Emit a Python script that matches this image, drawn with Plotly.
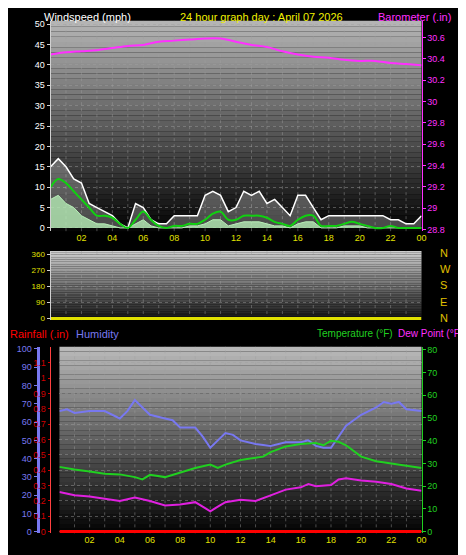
import plotly.graph_objects as go

hours = [i * 0.5 for i in range(49)]
wind_gust = [15, 17, 15, 12, 11, 6, 5, 4, 3, 1, 0, 6, 5, 2, 1, 1, 3, 3, 3, 3, 8, 9, 8, 4, 5,
             9, 8, 9, 6, 7, 5, 3, 8, 8, 5, 2, 3, 3, 3, 3, 3, 3, 3, 3, 2, 2, 1, 1, 3]
wind_avg = [10, 12, 11, 9, 7, 5, 3, 3, 2.5, 1, 0, 2, 4, 2, 0.5, 0, 0.5, 0.5, 1, 1, 2, 3.5, 4, 2, 2,
            3, 3, 3, 2.5, 1.5, 1, 0.5, 2, 3, 3, 0.5, 0.5, 0.5, 1, 1.5, 1, 0.5, 0, 0, 0.5, 0, 0, 0, 0]
wind_lull = [7, 8, 6, 5, 3, 2, 1, 1, 0.5, 0, 0, 1, 2, 0.5, 0, 0, 0, 0, 0.5, 0.5, 1, 2, 2, 0.5, 1,
             1.5, 1.5, 1.5, 1, 0.5, 0.5, 0, 1, 1.5, 1.5, 0, 0, 0, 0.5, 0.5, 0.5, 0, 0, 0, 0, 0, 0, 0, 0]

baro_hours = list(range(25))
baro = [30.44, 30.46, 30.47, 30.48, 30.50, 30.52, 30.53, 30.56, 30.57, 30.58, 30.59, 30.59, 30.56,
        30.53, 30.51, 30.47, 30.44, 30.42, 30.41, 30.39, 30.38, 30.38, 30.36, 30.35, 30.34]

hum_h = [0, 0.5, 1, 2, 3, 4, 4.5, 5, 5.5, 6, 7, 7.5, 8, 9, 9.5, 10, 10.5, 11, 11.5, 12, 13, 14, 15,
         16, 16.5, 17, 17.5, 18, 18.5, 19, 20, 21, 21.5, 22, 22.5, 23, 24]
humidity = [66, 67, 65, 66, 66, 62, 66, 72, 68, 64, 62, 61, 57, 57, 52, 46, 50, 54, 53, 50, 48, 47,
            49, 49, 50, 47, 46, 46, 52, 58, 64, 68, 71, 70, 71, 67, 66]
temp_h = [0, 1, 2, 3, 4, 5, 5.5, 6, 7, 8, 9, 10, 10.5, 11, 12, 13, 13.5, 14, 15, 16, 17, 17.5, 18,
          18.5, 19, 20, 21, 22, 23, 24]
temperature = [28.5, 27.3, 26.5, 25.5, 25.2, 24, 23, 25, 24, 26, 28, 29.5, 28, 29.5, 31.5, 32.5,
               33, 35, 37.5, 38.5, 39, 38, 40, 39.5, 38, 33, 31, 30, 29, 28]
dew_h = [0, 1, 2, 3, 4, 5, 6, 7, 8, 9, 9.5, 10, 10.5, 11, 12, 13, 14, 15, 16, 16.5, 17, 18, 18.5,
         19, 20, 21, 22, 23, 24]
dewpoint = [17.5, 16, 15.5, 14.5, 13.5, 15, 13.5, 11.5, 12, 13, 11, 9, 11, 13, 14, 13.5, 16, 18.5,
            19.5, 21, 20, 20.5, 23, 23.5, 22.5, 22, 21, 19, 18]
rain_h = [0, 24]
rainfall = [0, 0]

tick_vals = [2, 4, 6, 8, 10, 12, 14, 16, 18, 20, 22, 24]
tick_text = ["02", "04", "06", "08", "10", "12", "14", "16", "18", "20", "22", "00"]

W, H = 466, 555
def px(x): return x / W
def py(y): return 1 - y / H

fig = go.Figure()
fig.add_trace(go.Scatter(x=hours, y=wind_gust, xaxis="x", yaxis="y", mode="lines", line=dict(color="white", width=1.5),
                         fill="tozeroy", fillcolor="rgba(200,200,200,0.35)"))
fig.add_trace(go.Scatter(x=hours, y=wind_lull, xaxis="x", yaxis="y", mode="lines", line=dict(color="#b8f0b8", width=1),
                         fill="tozeroy", fillcolor="rgba(180,235,180,0.8)"))
fig.add_trace(go.Scatter(x=hours, y=wind_avg, xaxis="x", yaxis="y", mode="lines", line=dict(color="#10d010", width=2, shape="spline")))
fig.add_trace(go.Scatter(x=baro_hours, y=baro, xaxis="x", yaxis="y2", mode="lines", line=dict(color="#ff30ff", width=2, shape="spline")))
fig.add_trace(go.Scatter(x=[0, 24], y=[0, 0], xaxis="x2", yaxis="y3", mode="lines", line=dict(color="#e0e000", width=3)))
fig.add_trace(go.Scatter(x=rain_h, y=rainfall, xaxis="x3", yaxis="y5", mode="lines", line=dict(color="red", width=3)))
fig.add_trace(go.Scatter(x=hum_h, y=humidity, xaxis="x3", yaxis="y4", mode="lines", line=dict(color="#7878f0", width=2)))
fig.add_trace(go.Scatter(x=temp_h, y=temperature, xaxis="x3", yaxis="y6", mode="lines", line=dict(color="#20d020", width=2)))
fig.add_trace(go.Scatter(x=dew_h, y=dewpoint, xaxis="x3", yaxis="y6", mode="lines", line=dict(color="#e020e0", width=2)))

shapes = []
def grad(x0, x1, y0, y1, top, bot, n=40):
    for i in range(n):
        t = i / (n - 1)
        c = int(top + (bot - top) * t)
        shapes.append(dict(type="rect", xref="paper", yref="paper", layer="below", line=dict(width=0),
                           x0=px(x0), x1=px(x1), y0=py(y0 + (y1 - y0) * (i + 1) / n), y1=py(y0 + (y1 - y0) * i / n),
                           fillcolor=f"rgb({c},{c},{c})"))
grad(43, 418, 10, 223, 180, 5)
grad(43, 418, 243, 313, 205, 20)
grad(52, 418, 340, 529, 185, 5)
for h in range(1, 24):
    for xa, ya in (("x", "y"), ("x2", "y3"), ("x3", "y5")):
        shapes.append(dict(type="line", xref=xa, yref=ya + " domain", x0=h, x1=h, y0=0, y1=1,
                           line=dict(color="rgba(160,160,160,0.45)", width=1, dash="dot"), layer="below"))

grid = dict(showgrid=True, gridcolor="rgba(160,160,160,0.45)", griddash="dot", gridwidth=1)
xcommon = dict(range=[0, 24], tickvals=tick_vals, ticktext=tick_text, tickfont=dict(color="#e0e000", size=9),
               showgrid=False, zeroline=False, ticks="", showline=False)
fig.update_layout(
    width=W, height=H, margin=dict(l=0, r=0, t=0, b=0), paper_bgcolor="black", plot_bgcolor="rgba(0,0,0,0)",
    showlegend=False, font=dict(family="Liberation Sans", size=9), shapes=shapes,
    xaxis=dict(domain=[px(43), px(418)], anchor="y", **xcommon),
    xaxis2=dict(domain=[px(43), px(418)], anchor="y3", range=[0, 24], showticklabels=False, showgrid=False, zeroline=False),
    xaxis3=dict(domain=[px(52), px(418)], anchor="y5", **xcommon),
    yaxis=dict(domain=[py(223), py(10)], range=[-0.8, 50.8], tickvals=list(range(0, 51, 5)), tickfont=dict(color="white", size=9),
               zeroline=False, showline=True, linecolor="#d0d0d0", ticks="outside", ticklen=3, tickcolor="#d0d0d0", **grid),
    yaxis2=dict(overlaying="y", side="right", range=[28.785, 30.755], tickvals=[28.8 + 0.2 * i for i in range(10)],
                ticktext=["28.8", "29", "29.2", "29.4", "29.6", "29.8", "30", "30.2", "30.4", "30.6"],
                tickfont=dict(color="#ff30ff", size=9), showgrid=False, zeroline=False, showline=True, linecolor="#ff30ff",
                ticks="outside", ticklen=3, tickcolor="#ff30ff"),
    yaxis3=dict(domain=[py(313), py(243)], range=[-8, 378], tickvals=[0, 90, 180, 270, 360], tickfont=dict(color="#e0e000", size=8),
                zeroline=False, showline=True, linecolor="#d0d0d0", ticks="outside", ticklen=3, tickcolor="#d0d0d0", **grid),
    yaxis5=dict(domain=[py(529), py(340)], range=[-0.012, 1.205], tickvals=[round(0.1 * i, 1) for i in range(12)],
                ticktext=["0", "0.1", "0.2", "0.3", "0.4", "0.5", "0.6", "0.7", "0.8", "0.9", "1", "1.1"],
                tickfont=dict(color="#d00000", size=9), zeroline=False, showline=True, linecolor="#ff4040",
                ticks="outside", ticklen=2, tickcolor="#d00000", **grid),
    yaxis4=dict(overlaying="y5", anchor="free", position=px(30), range=[-0.8, 101.2], tickvals=list(range(0, 101, 10)),
                tickfont=dict(color="#7878f0", size=9), showgrid=False, zeroline=False, showline=True, linecolor="#7878f0",
                linewidth=3, ticks="outside", ticklen=3, tickcolor="#7878f0"),
    yaxis6=dict(overlaying="y5", side="right", range=[-0.7, 81.3], tickvals=list(range(0, 81, 10)),
                tickfont=dict(color="#20d020", size=9), showgrid=False, zeroline=False, showline=True, linecolor="#20d020",
                ticks="outside", ticklen=3, tickcolor="#20d020"),
)
ann = [
    dict(x=px(34), y=py(6), text="Windspeed (mph)", font=dict(color="white", size=11)),
    dict(x=px(172), y=py(6), text="24 hour graph day : April 07 2026", font=dict(color="#f0f000", size=11)),
    dict(x=px(372), y=py(6), text="Barometer (.in)", font=dict(color="#ff30ff", size=11)),
    dict(x=px(0), y=py(327), text="Rainfall (.in)", font=dict(color="red", size=11)),
    dict(x=px(67), y=py(327), text="Humidity", font=dict(color="#7878f0", size=11)),
    dict(x=px(310), y=py(327), text="Temperature (°F)", font=dict(color="#20d020", size=10)),
    dict(x=px(392), y=py(327), text="Dew Point (°F)", font=dict(color="#ff30ff", size=10)),
]
for i, l in enumerate(["N", "W", "S", "E", "N"]):
    ann.append(dict(x=px(435), y=py(245 + i * 16.5), text=l, font=dict(color="#e0c000", size=11)))
fig.update_layout(annotations=[dict(dict(xref="paper", yref="paper", xanchor="left", yanchor="middle", showarrow=False), **a) for a in ann])
fig.write_html("out.html")
